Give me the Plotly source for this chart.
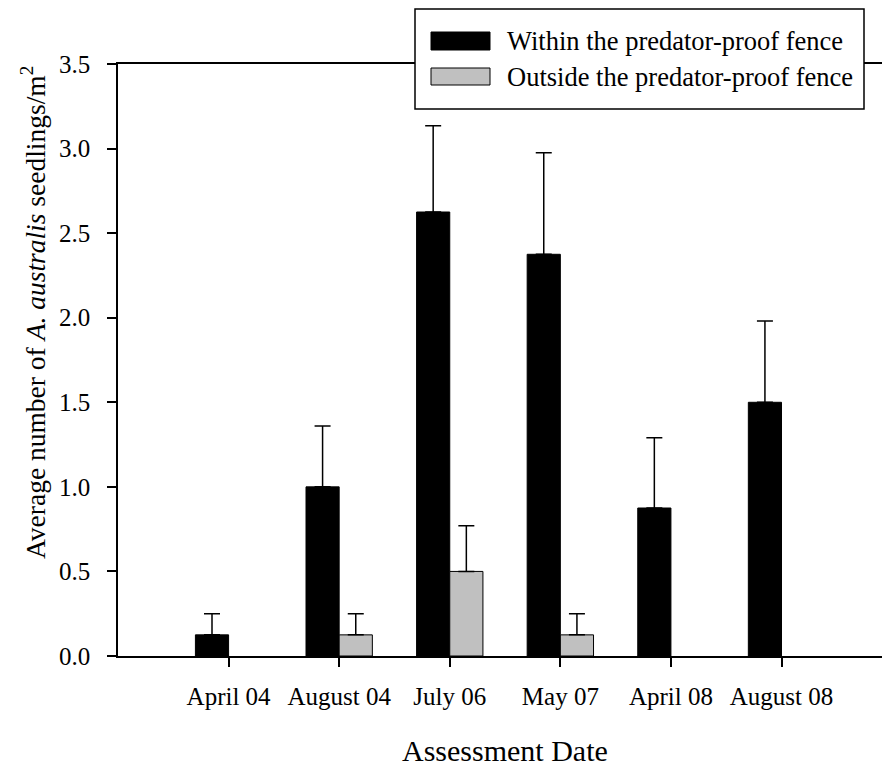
import plotly.graph_objects as go

categories = ["April 04", "August 04", "July 06", "May 07", "April 08", "August 08"]
within_mean = [0.125, 1.0, 2.625, 2.375, 0.875, 1.5]
within_err = [0.125, 0.36, 0.51, 0.60, 0.415, 0.48]
outside_mean = [0.0, 0.125, 0.5, 0.125, 0.0, 0.0]
outside_err = [0.0, 0.125, 0.27, 0.125, 0.0, 0.0]
y_ticks = [0.0, 0.5, 1.0, 1.5, 2.0, 2.5, 3.0, 3.5]
series_names = ["Within the predator-proof fence", "Outside the predator-proof fence"]
series_colors = ["#000000", "#C0C0C0"]

FONT = "Liberation Serif"
W, H = 882, 767
L, R, T, B = 118, 0, 64, 111
pw = W - L - R
ph = H - T - B

xpos = list(range(len(categories)))

fig = go.Figure()
for name, vals, errs, col in [
    (series_names[0], within_mean, within_err, series_colors[0]),
    (series_names[1], outside_mean, outside_err, series_colors[1]),
]:
    # zero means are drawn as no bar at all (as in the reference)
    fig.add_trace(go.Bar(
        x=xpos, y=[v if v > 0 else None for v in vals], name=name,
        marker=dict(color=col, line=dict(color="black", width=1)),
        error_y=dict(type="data",
                     array=[e if v > 0 else None for v, e in zip(vals, errs)],
                     arrayminus=[0 if v > 0 else None for v in vals],
                     symmetric=False, color="black", thickness=1.5, width=8),
        showlegend=False,
    ))

def px_x(px):
    return (px - L) / pw

def px_y(py):
    return (H - B - py) / ph

shapes = [
    dict(type="rect", xref="paper", yref="paper",
         x0=px_x(415), x1=px_x(864), y0=px_y(109), y1=px_y(9),
         fillcolor="white", line=dict(color="black", width=1.5), layer="above"),
]
annotations = []
rows = [(32, 50), (68, 85)]
for (y0, y1), name, col in zip(rows, series_names, series_colors):
    shapes.append(dict(type="rect", xref="paper", yref="paper",
                       x0=px_x(431), x1=px_x(490), y0=px_y(y1), y1=px_y(y0),
                       fillcolor=col, line=dict(color="black", width=1), layer="above"))
    annotations.append(dict(xref="paper", yref="paper", x=px_x(505), y=px_y((y0 + y1) / 2),
                            text=name, showarrow=False, xanchor="left", yanchor="middle",
                            font=dict(family=FONT, size=26.5, color="black")))

annotations.append(dict(xref="paper", yref="paper", x=px_x(505), y=px_y(750),
                        text="Assessment Date", showarrow=False,
                        xanchor="center", yanchor="middle",
                        font=dict(family=FONT, size=30, color="black")))
annotations.append(dict(xref="paper", yref="paper", x=px_x(33), y=px_y(313),
                        text="Average number of <i>A. australis</i> seedlings/m<sup>2</sup>",
                        textangle=-90, showarrow=False,
                        xanchor="center", yanchor="middle",
                        font=dict(family=FONT, size=27.5, color="black")))

fig.update_layout(
    width=W, height=H,
    margin=dict(l=L, r=R, t=T, b=B, pad=0),
    plot_bgcolor="white", paper_bgcolor="white",
    barmode="group", bargap=0.4, bargroupgap=0,
    font=dict(family=FONT, color="black"),
    shapes=shapes, annotations=annotations,
    xaxis=dict(
        range=[-1, (W - 228.5) / 110.6], tickvals=xpos, ticktext=categories,
        showline=True, linecolor="black", linewidth=2, mirror=True,
        ticks="outside", ticklen=9, tickwidth=1.5, tickcolor="black",
        showgrid=False, zeroline=False,
        tickfont=dict(family=FONT, size=25, color="black"),
        ticklabelstandoff=8,
    ),
    yaxis=dict(
        range=[0, 3.5], tickvals=y_ticks, tickformat=".1f",
        showline=True, linecolor="black", linewidth=1.5,
        ticks="outside", ticklen=9, tickwidth=1.5, tickcolor="black",
        showgrid=False, zeroline=False,
        tickfont=dict(family=FONT, size=25, color="black"),
        ticklabelstandoff=12,
    ),
)

fig.write_html("out.html", config={"displayModeBar": False},
               post_script="document.body.style.margin='0';document.body.style.padding='0';")
